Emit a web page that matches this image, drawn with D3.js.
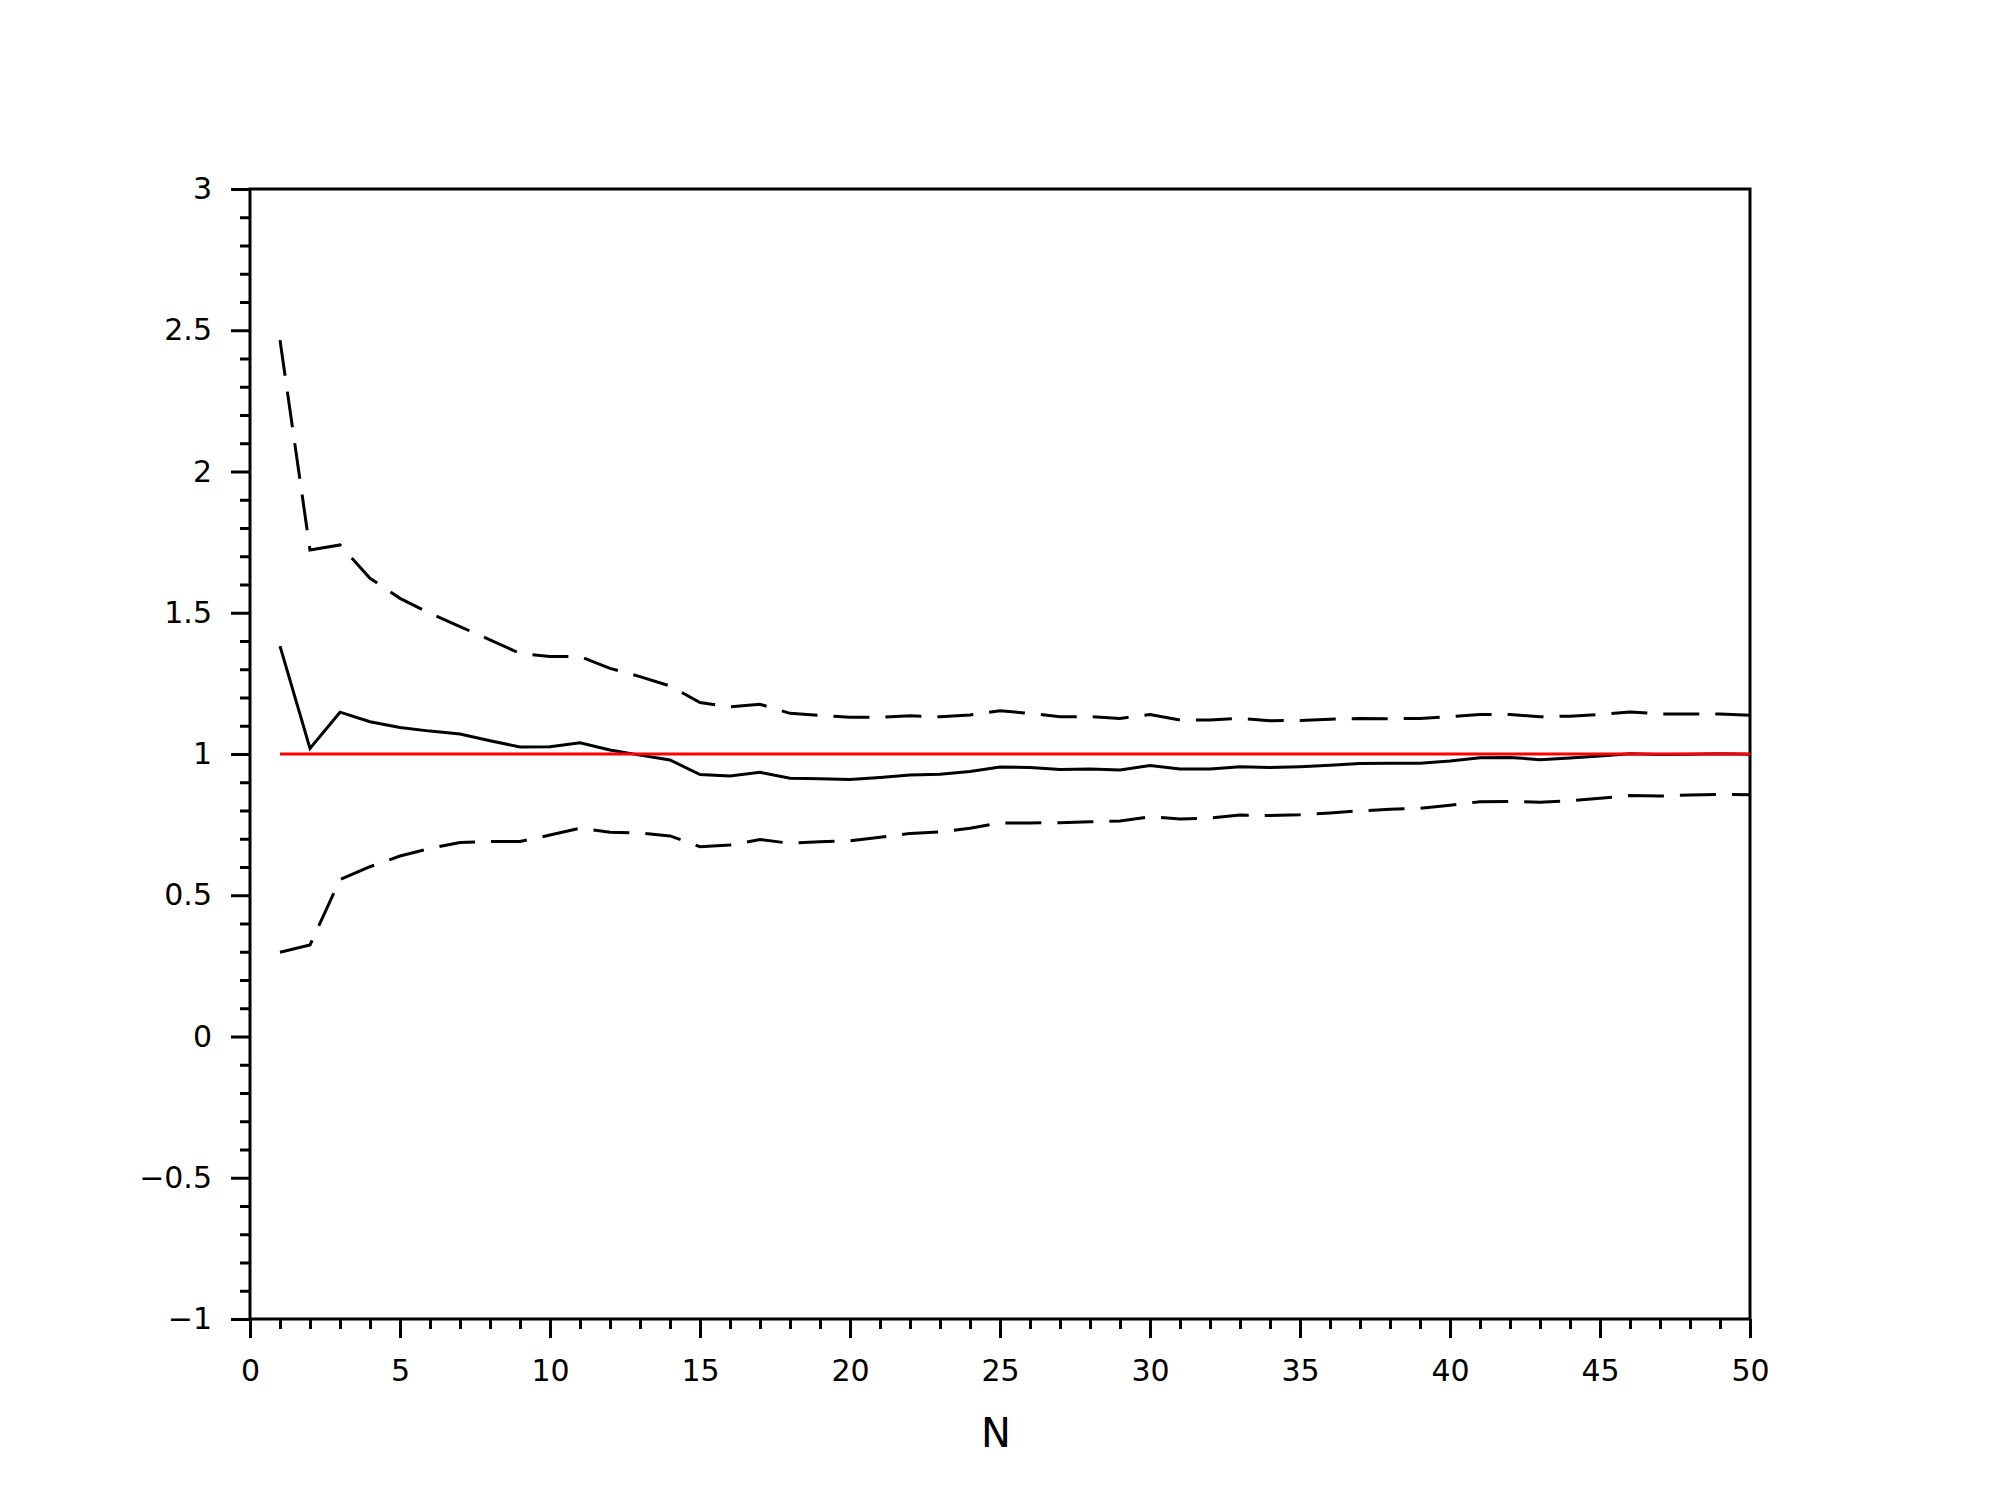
<!DOCTYPE html>
<html>
<head>
<meta charset="utf-8">
<script src="https://cdn.jsdelivr.net/npm/d3@7"></script>
<style>
  html, body { margin: 0; padding: 0; background: #fff; }
  svg { display: block; }
  text { font-family: "DejaVu Sans", sans-serif; fill: #000; }
</style>
</head>
<body>
<script>
// ---- data ----
const nValues = d3.range(1, 51);
const meanValues = [
  1.382, 1.020, 1.148, 1.114, 1.094, 1.081, 1.071, 1.047, 1.025, 1.026,
  1.040, 1.014, 0.996, 0.979, 0.927, 0.922, 0.935, 0.914, 0.912, 0.910,
  0.917, 0.926, 0.928, 0.938, 0.954, 0.952, 0.945, 0.947, 0.943, 0.959,
  0.947, 0.947, 0.955, 0.952, 0.955, 0.960, 0.966, 0.967, 0.967, 0.975,
  0.987, 0.988, 0.980, 0.986, 0.993, 1.001, 0.998, 0.999, 1.001, 0.999
];
const upperValues = [
  2.465, 1.722, 1.740, 1.622, 1.551, 1.498, 1.451, 1.404, 1.356, 1.345,
  1.345, 1.303, 1.274, 1.241, 1.182, 1.167, 1.176, 1.144, 1.137, 1.130,
  1.130, 1.135, 1.132, 1.138, 1.153, 1.144, 1.132, 1.132, 1.126, 1.140,
  1.120, 1.120, 1.126, 1.118, 1.119, 1.123, 1.126, 1.125, 1.126, 1.132,
  1.140, 1.140, 1.132, 1.134, 1.140, 1.149, 1.142, 1.142, 1.142, 1.137
];
const lowerValues = [
  0.298, 0.324, 0.556, 0.601, 0.639, 0.666, 0.687, 0.690, 0.690, 0.713,
  0.737, 0.723, 0.720, 0.710, 0.672, 0.678, 0.697, 0.684, 0.689, 0.693,
  0.705, 0.719, 0.724, 0.737, 0.756, 0.756, 0.757, 0.760, 0.763, 0.778,
  0.770, 0.773, 0.784, 0.782, 0.785, 0.791, 0.799, 0.804, 0.808, 0.819,
  0.831, 0.832, 0.829, 0.835, 0.843, 0.853, 0.851, 0.855, 0.857, 0.856
];
const referenceValue = 1;
const xMajorTicks = [0, 5, 10, 15, 20, 25, 30, 35, 40, 45, 50];
const yMajorTicks = [-1, -0.5, 0, 0.5, 1, 1.5, 2, 2.5, 3];
const xLabel = "N";

// ---- layout ----
const W = 2000, H = 1508;
const plotLeft = 250, plotRight = 1750, plotTop = 189, plotBottom = 1319;

const svg = d3.select("body").append("svg")
  .attr("width", W).attr("height", H);

const x = d3.scaleLinear().domain([0, 50]).range([plotLeft, plotRight]);
const y = d3.scaleLinear().domain([-1, 3]).range([plotBottom, plotTop]);

const xMinor = d3.range(0, 51, 1).filter(v => v % 5 !== 0);
const yMinor = d3.range(-10, 31, 1).filter(v => v % 5 !== 0).map(v => v / 10);

function styleAxis(g) {
  g.select(".domain").remove();
  g.selectAll(".tick line").attr("stroke", "#000").attr("stroke-width", 3);
  g.selectAll(".tick text").attr("font-size", 30).attr("fill", "#000")
    .attr("font-family", "DejaVu Sans");
}

// minor ticks
svg.append("g").attr("transform", `translate(0,${plotBottom})`)
  .call(d3.axisBottom(x).tickValues(xMinor).tickSize(10).tickFormat(""))
  .call(styleAxis);
svg.append("g").attr("transform", `translate(${plotLeft},0)`)
  .call(d3.axisLeft(y).tickValues(yMinor).tickSize(10).tickFormat(""))
  .call(styleAxis);

// major ticks
svg.append("g").attr("transform", `translate(0,${plotBottom})`)
  .call(d3.axisBottom(x).tickValues(xMajorTicks).tickSize(19).tickPadding(22).tickFormat(d3.format("~g")))
  .call(styleAxis);
svg.append("g").attr("transform", `translate(${plotLeft},0)`)
  .call(d3.axisLeft(y).tickValues(yMajorTicks).tickSize(19).tickPadding(19).tickFormat(d3.format("~g")))
  .call(styleAxis);

// frame
svg.append("rect")
  .attr("x", plotLeft).attr("y", plotTop)
  .attr("width", plotRight - plotLeft).attr("height", plotBottom - plotTop)
  .attr("fill", "none").attr("stroke", "#000").attr("stroke-width", 3);

// lines
const line = d3.line().x((d, i) => x(nValues[i])).y(d => y(d));

svg.append("path").datum(upperValues)
  .attr("d", line).attr("fill", "none").attr("stroke", "#000")
  .attr("stroke-width", 3).attr("stroke-dasharray", "36,16");
svg.append("path").datum(lowerValues)
  .attr("d", line).attr("fill", "none").attr("stroke", "#000")
  .attr("stroke-width", 3).attr("stroke-dasharray", "36,16");
svg.append("path").datum(meanValues)
  .attr("d", line).attr("fill", "none").attr("stroke", "#000")
  .attr("stroke-width", 3);

svg.append("path").datum(nValues.map(() => referenceValue))
  .attr("d", line).attr("fill", "none").attr("stroke", "#ff0000")
  .attr("stroke-width", 3);

// x label
svg.append("text")
  .attr("x", x(25) - 4).attr("y", 1447)
  .attr("text-anchor", "middle")
  .attr("font-size", 40)
  .text(xLabel);
</script>
</body>
</html>
